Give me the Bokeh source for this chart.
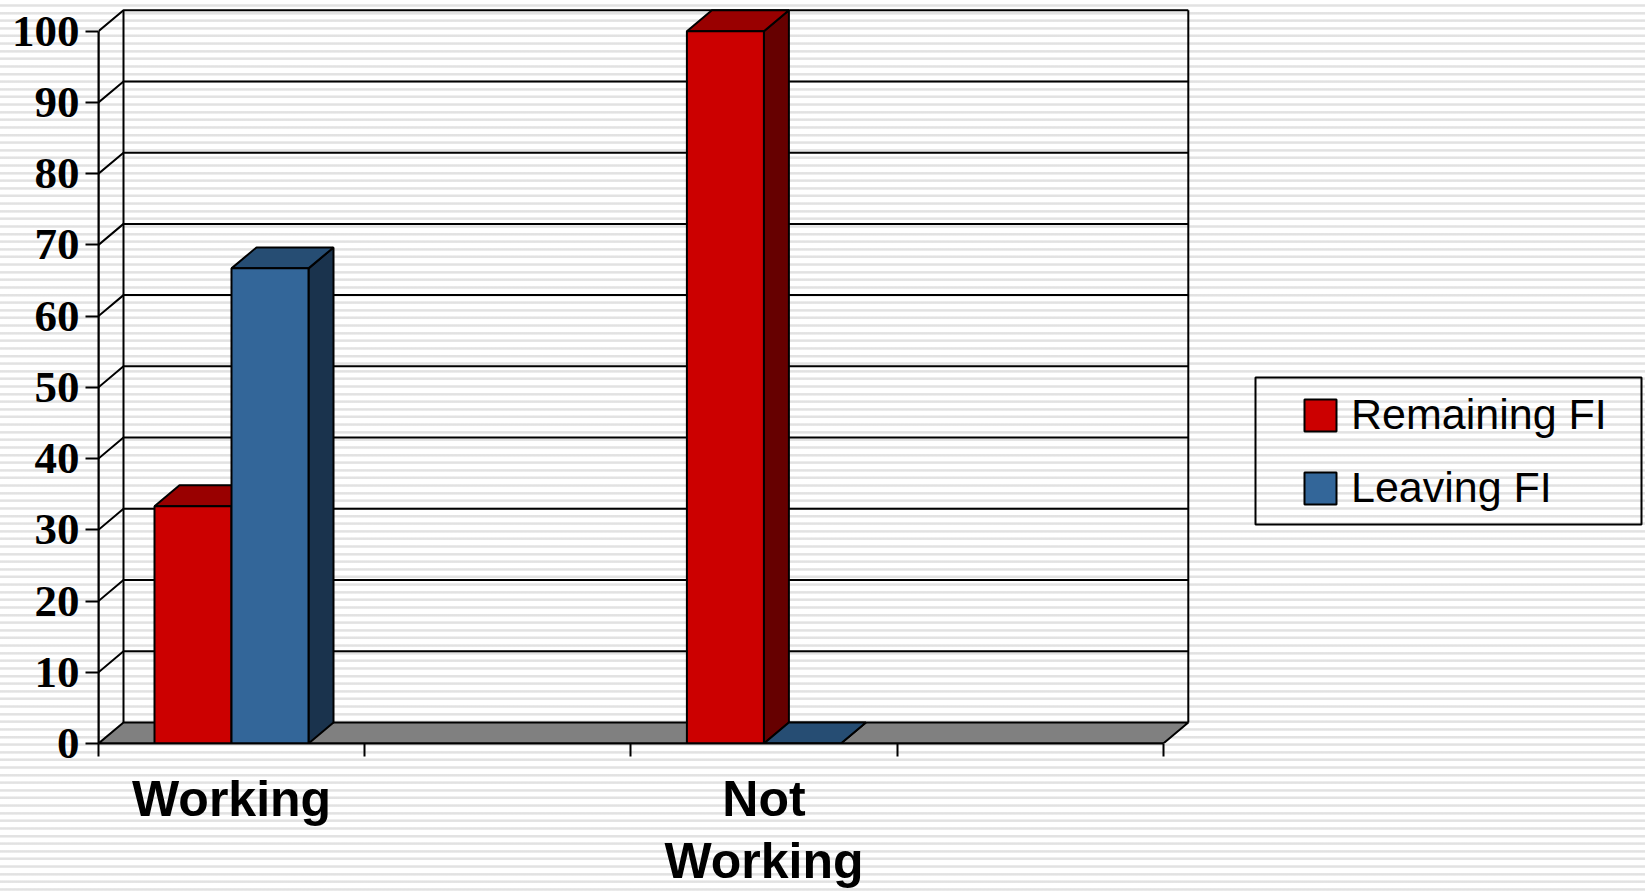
from bokeh.plotting import figure
from bokeh.embed import file_html
from bokeh.resources import INLINE
from bokeh.models import LinearAxis, FixedTicker, Legend, LegendItem, Range1d, BoxAnnotation

categories = ["Working", "Not\nWorking"]
category_slots = [0, 2]
remaining_fi = [33.3, 100]
leaving_fi = [66.7, 0]
y_ticks = [0, 10, 20, 30, 40, 50, 60, 70, 80, 90, 100]
x_tick_marks = [0, 1, 2, 3, 4]

W, H = 1645, 892
LEFT, ZERO_Y = 98, 744
PX_CAT, PX_VAL = 266.2, 7.133
DX, DY = 25 / PX_CAT, 21 / PX_VAL      # oblique depth, data units
BAR_W, GAP = 77 / PX_CAT, 56 / PX_CAT

p = figure(width=W, height=H, output_backend="svg", toolbar_location=None,
           x_axis_location=None, y_axis_location=None,
           x_range=Range1d(0, (W - LEFT) / PX_CAT),
           y_range=Range1d(0, ZERO_Y / PX_VAL),
           min_border_left=LEFT, min_border_right=0, min_border_top=0,
           min_border_bottom=H - ZERO_Y)
p.grid.visible = False
p.outline_line_color = None
p.background_fill_alpha = 0
p.border_fill_alpha = 0
p.styles = {
    "position": "fixed", "left": "0", "top": "0",
    "background": "repeating-linear-gradient(to bottom, #ffffff 0px, #ffffff 4px, "
                  "#f0f0f0 4px, #e2e2e2 5px, #e2e2e2 6px, #f0f0f0 7px, #ffffff 7px, #ffffff 7.62px)",
}

LINE = dict(line_color="black", line_width=2)

# floor
p.patch([0, 4, 4 + DX, DX], [0, 0, DY, DY], fill_color="#808080", **LINE)

# back wall: grid lines, their slanted parts on the side wall, frame
for v in y_ticks[1:]:
    p.line([0, DX, 4 + DX], [v, v + DY, v + DY], **LINE)
p.line([DX, DX], [DY, 100 + DY], **LINE)
p.line([4 + DX, 4 + DX], [DY, 100 + DY], **LINE)
p.line([0, 0], [0, 100], **LINE)


def bar(x0, v, front, top, side):
    x1 = x0 + BAR_W
    p.patch([x1, x1 + DX, x1 + DX, x1], [0, DY, v + DY, v], fill_color=side, **LINE)
    p.patch([x0, x0 + DX, x1 + DX, x1], [v, v + DY, v + DY, v], fill_color=top, **LINE)
    return p.quad(left=[x0], right=[x1], bottom=[0], top=[v], fill_color=front, **LINE)


red_parts, blue_parts = [], []
for slot, r, b in zip(category_slots, remaining_fi, leaving_fi):
    x0 = slot + GAP
    red_parts.append(bar(x0, r, "#cc0000", "#990000", "#660000"))
    blue_parts.append(bar(x0 + BAR_W, b, "#336699", "#264d73", "#1a334d"))

# y axis
yax = LinearAxis(ticker=FixedTicker(ticks=y_ticks), bounds=(0, 100))
yax.axis_line_color = "black"
yax.axis_line_width = 2
yax.major_tick_line_color = "black"
yax.major_tick_line_width = 2
yax.major_tick_in = 0
yax.major_tick_out = 13
yax.minor_tick_out = 0
yax.minor_tick_in = 0
yax.major_label_standoff = 6
yax.major_label_text_font = "Liberation Serif"
yax.major_label_text_font_style = "bold"
yax.major_label_text_font_size = "45px"
yax.major_label_text_color = "black"
p.add_layout(yax, "left")

# x axis: labels sit between the tick marks
label_pos = [s + 0.5 for s in category_slots]
xax = LinearAxis(ticker=FixedTicker(ticks=label_pos, minor_ticks=x_tick_marks), bounds=(0, 4))
xax.major_label_overrides = {k: c for k, c in zip(label_pos, categories)}
xax.axis_line_color = "black"
xax.axis_line_width = 2
xax.major_tick_in = 0
xax.major_tick_out = 0
xax.minor_tick_line_color = "black"
xax.minor_tick_line_width = 2
xax.minor_tick_in = 0
xax.minor_tick_out = 13
xax.major_label_standoff = 14
xax.major_label_text_font = "Liberation Sans"
xax.major_label_text_font_style = "bold"
xax.major_label_text_font_size = "50px"
xax.major_label_text_color = "black"
xax.major_label_text_line_height = 1.12
p.add_layout(xax, "below")

legend_box = BoxAnnotation(left=1255, right=1641, top=377, bottom=524,
                           left_units="canvas", right_units="canvas",
                           top_units="canvas", bottom_units="canvas",
                           fill_alpha=0, line_color="black", line_width=2, line_alpha=1)
p.add_layout(legend_box)

legend = Legend(
    items=[LegendItem(label="Remaining FI", renderers=[red_parts[0]]),
           LegendItem(label="Leaving FI", renderers=[blue_parts[0]])],
    location=(1300 - LEFT, ZERO_Y - 513),
    background_fill_alpha=0,
    border_line_color=None,
    glyph_width=40, glyph_height=40,
    label_text_font="Liberation Sans", label_text_font_size="43px",
    label_text_color="black",
    label_standoff=11, padding=0, margin=0, spacing=24,
)
p.add_layout(legend, "center")

open("out.html", "w").write(file_html(p, INLINE))
